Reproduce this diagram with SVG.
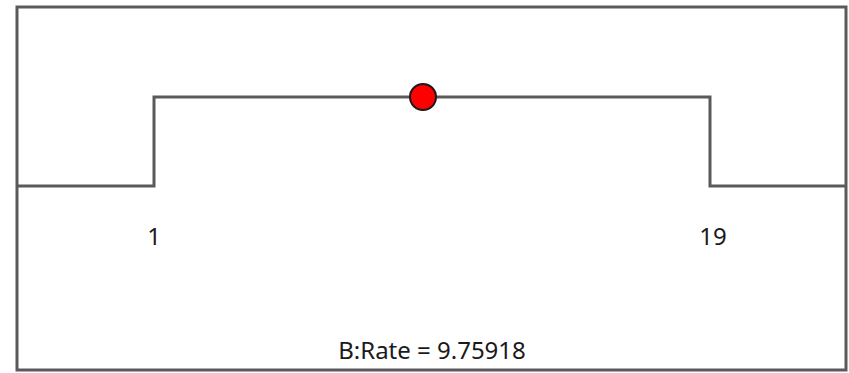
<svg xmlns="http://www.w3.org/2000/svg" width="849" height="373" viewBox="0 0 849 373">
<style>
.ln{fill:none;stroke:#5a5a5a;stroke-width:3;stroke-linejoin:miter}
.t{font-family:"Noto Sans","Open Sans",sans-serif;font-size:24px;fill:#1a1a1a}
</style>
<rect width="849" height="373" fill="#ffffff"/>
<g id="frame"><rect class="ln" x="17" y="7" width="829" height="363"/></g>
<g id="connectors"><polyline class="ln" points="17,186 154,186 154,97 710,97 710,186 846,186"/></g>
<g id="marker"><circle cx="423" cy="97" r="13" fill="#ff0000" stroke="#1a1a1a" stroke-width="2"/></g>
<g id="label1"><text class="t" x="154" y="245" text-anchor="middle">1</text></g>
<g id="label19"><text class="t" x="713" y="245" text-anchor="middle">19</text></g>
<g id="rate"><text class="t" x="432" y="359" text-anchor="middle">B:Rate = 9.75918</text></g>
</svg>
